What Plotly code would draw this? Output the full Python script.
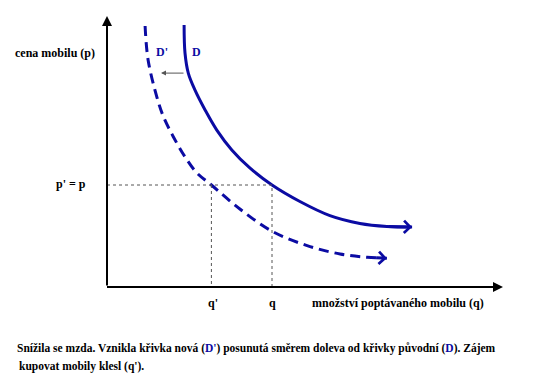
import plotly.graph_objects as go

# ---- data (conceptual units: quantity q, price p) ----
d_q = [2.57, 2.60, 2.71, 2.93, 3.27, 3.66, 4.16, 4.77, 5.50, 6.43, 7.43, 8.43, 9.33, 10.17]
d_p = [8.73, 7.80, 7.13, 6.57, 5.90, 5.23, 4.57, 3.96, 3.40, 2.85, 2.38, 2.12, 2.02, 2.00]
d2_q = [1.27, 1.37, 1.66, 1.88, 2.21, 2.60, 2.99, 3.48, 4.43, 5.50, 6.67, 7.77, 8.67, 9.33]
d2_p = [8.70, 7.57, 6.34, 5.68, 5.01, 4.34, 3.81, 3.40, 2.60, 1.86, 1.38, 1.10, 0.99, 0.96]
p_level = 3.40
q_new = 3.48
q_old = 5.50
q_max = 13.2
p_max = 9.03

BLUE = "#0B0BA3"
FONT = "Liberation Serif"

fig = go.Figure()
fig.add_trace(go.Scatter(x=d_q, y=d_p, mode="lines",
                         line=dict(color=BLUE, width=3, shape="spline", smoothing=1.0),
                         hoverinfo="skip"))
fig.add_trace(go.Scatter(x=d2_q, y=d2_p, mode="lines",
                         line=dict(color=BLUE, width=3, shape="spline", smoothing=1.0, dash="10px,6px"),
                         hoverinfo="skip"))
# dotted guides
fig.add_trace(go.Scatter(x=[0, q_old, q_old], y=[p_level, p_level, 0], mode="lines",
                         line=dict(color="#555555", width=1, dash="dot"), hoverinfo="skip"))
fig.add_trace(go.Scatter(x=[q_new, q_new], y=[p_level, 0], mode="lines",
                         line=dict(color="#555555", width=1, dash="dot"), hoverinfo="skip"))

ann = []
# axes arrows
ann.append(dict(x=0, y=p_max, ax=0, ay=0, xref="x", yref="y", axref="x", ayref="y", text="",
                showarrow=True, arrowhead=2, arrowwidth=2, arrowsize=1, arrowcolor="black"))
ann.append(dict(x=q_max, y=0, ax=-0.05, ay=0, xref="x", yref="y", axref="x", ayref="y", text="",
                showarrow=True, arrowhead=2, arrowwidth=2, arrowsize=1, arrowcolor="black"))
# curve end arrowheads
ann.append(dict(x=d_q[-1], y=d_p[-1], ax=d_q[-2], ay=d_p[-2], xref="x", yref="y", axref="x", ayref="y",
                text="", showarrow=True, arrowhead=4, arrowwidth=3, arrowsize=0.8, arrowcolor=BLUE))
ann.append(dict(x=d2_q[-1], y=d2_p[-1], ax=d2_q[-2] + 0.25, ay=d2_p[-2] - 0.01, xref="x", yref="y",
                axref="x", ayref="y", text="", showarrow=True, arrowhead=4, arrowwidth=3,
                arrowsize=0.8, arrowcolor=BLUE))
# shift arrow
ann.append(dict(x=1.8, y=7.13, ax=2.6, ay=7.13, xref="x", yref="y", axref="x", ayref="y", text="",
                showarrow=True, arrowhead=2, arrowwidth=1, arrowsize=1, arrowcolor="#555555"))

def lab(x, y, t, xanchor="center", color="black", xref="x", yref="y", size=12):
    ann.append(dict(x=x, y=y, xref=xref, yref=yref, text=t, showarrow=False, xanchor=xanchor,
                    yanchor="middle", font=dict(family=FONT, size=size, color=color)))

lab(-0.33, 7.8, "<b>cena mobilu (p)</b>", xanchor="right")
lab(-0.63, 3.43, "<b>p' = p</b>", xanchor="right")
lab(1.83, 7.83, "<b>D'</b>", color=BLUE)
lab(2.97, 7.83, "<b>D</b>", color=BLUE)
lab(q_new + 0.06, -0.53, "<b>q'</b>")
lab(q_old + 0.03, -0.53, "<b>q</b>")
lab(9.7, -0.53, "<b>množství poptávaného mobilu (q)</b>")
lab(15 / 540, 1 - 348 / 389,
    "<b>Snížila se mzda. Vznikla křivka nová (<span style='color:%s'>D'</span>) posunutá směrem doleva "
    "od křivky původní (<span style='color:%s'>D</span>). Zájem</b>" % (BLUE, BLUE),
    xanchor="left", xref="paper", yref="paper", size=11.5)
lab(17 / 540, 1 - 366 / 389, "<b>kupovat mobily klesl (q').</b>", xanchor="left", xref="paper",
    yref="paper", size=11.5)

fig.update_layout(
    width=540, height=389, margin=dict(l=0, r=0, t=0, b=0),
    paper_bgcolor="white", plot_bgcolor="white", showlegend=False,
    xaxis=dict(range=[-107 / 30, 433 / 30], visible=False, fixedrange=True),
    yaxis=dict(range=[-102 / 30, 287 / 30], visible=False, fixedrange=True),
    annotations=ann,
)
fig.write_html("out.html", config={"displayModeBar": False},
               post_script="document.body.style.margin='0px';document.body.style.overflow='hidden';")
